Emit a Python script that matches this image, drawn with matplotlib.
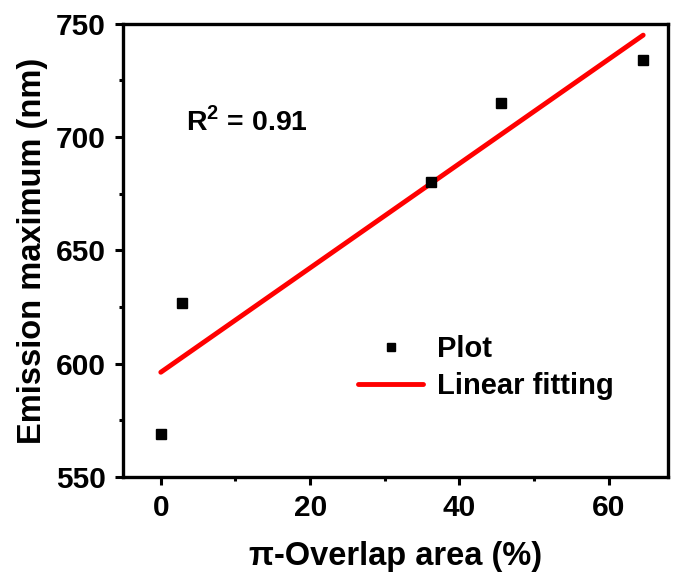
import numpy as np
import matplotlib
matplotlib.use("Agg")
import matplotlib.pyplot as plt

plt.rcParams['font.family'] = ['Liberation Sans', 'DejaVu Sans']
plt.rcParams['font.weight'] = 'bold'
plt.rcParams['mathtext.fontset'] = 'custom'
plt.rcParams['mathtext.rm'] = 'Liberation Sans:bold'
plt.rcParams['mathtext.bf'] = 'Liberation Sans:bold'

overlap = [0.0, 2.9, 36.2, 45.6, 64.6]
emission = [569, 627, 680, 715, 734]
xticks = [0, 20, 40, 60]
yticks = [550, 600, 650, 700, 750]

fig = plt.figure(figsize=(6.78, 5.81), dpi=100)
ax = fig.add_axes([0.181, 0.179, 0.804, 0.780])

x = np.array(overlap)
y = np.array(emission)
slope, intercept = np.polyfit(x, y, 1)
xf = np.array([x.min(), x.max()])

ax.plot(x, y, 's', color='black', markersize=7, label='Plot', zorder=3)
ax.plot(xf, slope * xf + intercept, '-', color='#ff0000', linewidth=3.5,
        solid_capstyle='round', label='Linear fitting', zorder=2)

ax.set_xlim(-5.1, 67.9)
ax.set_ylim(550, 750)
ax.set_xticks(xticks)
ax.set_yticks(yticks)
ax.set_xticks([10, 30, 50], minor=True)
ax.set_yticks([575, 625, 675, 725], minor=True)
ax.tick_params(which='major', direction='out', length=6, width=2.2, labelsize=21.5, pad=6)
ax.tick_params(which='minor', direction='out', length=3, width=2.2)
for sp in ax.spines.values():
    sp.set_linewidth(2.4)
for lab in ax.get_xticklabels() + ax.get_yticklabels():
    lab.set_fontweight('bold')

ax.set_xlabel('π-Overlap area (%)', fontsize=23.5, fontweight='bold', labelpad=14)
ax.set_ylabel('Emission maximum (nm)', fontsize=23.5, fontweight='bold', labelpad=6)

ax.text(0.116, 0.784, r'R$^{2}$ = 0.91', transform=ax.transAxes, fontsize=20.5,
        fontweight='bold', va='center', ha='left')

leg = ax.legend(loc='upper left', bbox_to_anchor=(0.411, 0.339), frameon=False,
                fontsize=21, handlelength=2.2, handletextpad=0.5, labelspacing=0.32,
                markerscale=0.75, borderaxespad=0)

fig.savefig('out.png', dpi=100)
